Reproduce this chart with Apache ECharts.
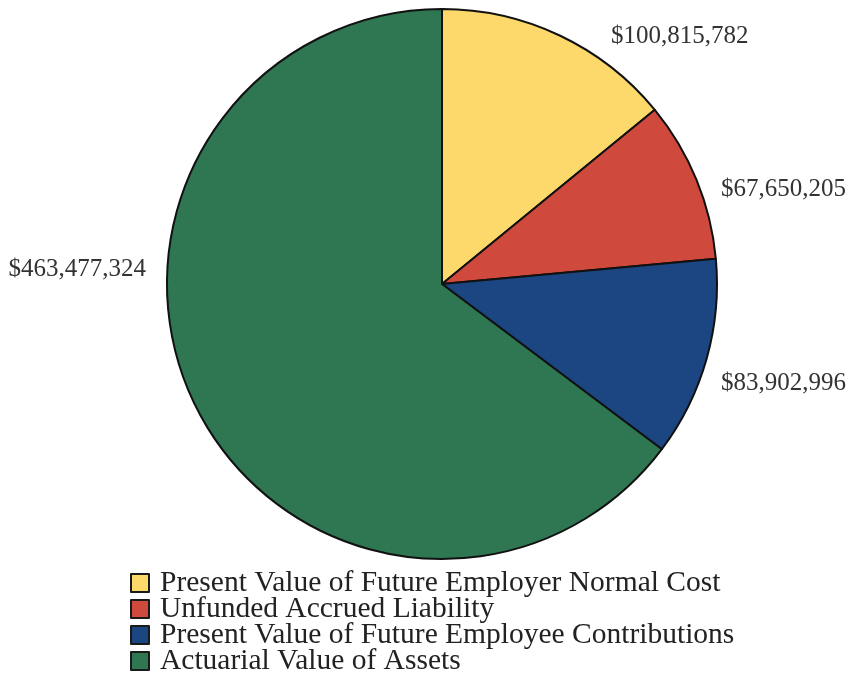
<!DOCTYPE html>
<html>
<head>
<meta charset="utf-8">
<script src="https://cdn.jsdelivr.net/npm/echarts@6/dist/echarts.min.js"></script>
<style>
html, body { margin: 0; padding: 0; background: #fff; }
#chart { width: 846px; height: 685px; }
</style>
</head>
<body>
<div id="chart"></div>
<script>
// Pension funding components
const categories = [
  'Present Value of Future Employer Normal Cost',
  'Unfunded Accrued Liability',
  'Present Value of Future Employee Contributions',
  'Actuarial Value of Assets'
];
const values = [100815782, 67650205, 83902996, 463477324];
const colors = ['#FDD96B', '#CF4A3D', '#1C4681', '#2E7752'];

// Where each value label sits (x, y, text alignment)
const labelSpots = [
  { x: 611, y: 36, align: 'left' },
  { x: 721, y: 189, align: 'left' },
  { x: 721, y: 383, align: 'left' },
  { x: 146, y: 269, align: 'right' }
];

function money(v) {
  return '$' + v.toString().replace(/\B(?=(\d{3})+(?!\d))/g, ',');
}

const chart = echarts.init(document.getElementById('chart'), null, { renderer: 'canvas' });
chart.setOption({
  animation: false,
  backgroundColor: '#ffffff',
  legend: {
    orient: 'vertical',
    left: 130,
    top: 568,
    padding: 0,
    height: 400,
    icon: 'rect',
    itemWidth: 18,
    itemHeight: 18,
    itemGap: -4,
    itemStyle: { borderColor: '#1a1a1a', borderWidth: 2 },
    textStyle: {
      fontFamily: 'Liberation Serif', fontSize: 29.5, color: '#222',
      padding: [0, 0, 0, 6]
    },
    data: categories
  },
  series: [{
    type: 'pie',
    center: [442, 284],
    radius: 275,
    startAngle: 90,
    clockwise: true,
    itemStyle: { borderColor: '#111', borderWidth: 2 },
    label: {
      show: true,
      position: 'outside',
      formatter: p => money(p.value),
      fontFamily: 'Liberation Serif',
      fontSize: 25,
      color: '#333',
      overflow: 'none',
      width: 200
    },
    labelLine: { show: false },
    labelLayout: p => {
      const s = labelSpots[p.dataIndex];
      return { x: s.x, y: s.y, align: s.align, verticalAlign: 'middle' };
    },
    emphasis: { disabled: true },
    data: categories.map((name, i) => ({ name, value: values[i], itemStyle: { color: colors[i] } }))
  }]
});
</script>
</body>
</html>
